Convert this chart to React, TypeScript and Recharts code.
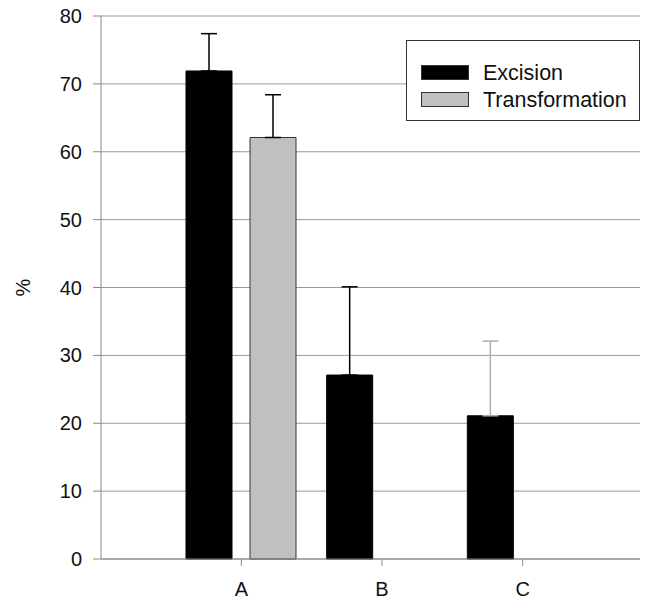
import { BarChart, Bar, XAxis, YAxis, CartesianGrid, ErrorBar } from 'recharts'

const categories = ['A', 'B', 'C']
const excision = [71.9, 27.1, 21.1]
const excisionErr = [5.5, 13.0, 11.0]
const transformation = [62.1, 0, 0]
const transformationErr = [6.3, 0, 0]
const yTicks = [0, 10, 20, 30, 40, 50, 60, 70, 80]

const seriesNames = ['Excision', 'Transformation']
const seriesFills = ['#000000', '#c0c0c0']

const font = '"Liberation Sans", Arial, sans-serif'

// C's whisker is drawn lighter in the original, so it gets its own key
const data = categories.map((cat, i) => ({
  cat,
  excision: excision[i],
  excisionErr: cat !== 'C' ? [0, excisionErr[i]] : undefined,
  excisionErrC: cat === 'C' ? [0, excisionErr[i]] : undefined,
  transformation: transformation[i],
  transformationErr: transformationErr[i] > 0 ? [0, transformationErr[i]] : undefined,
}))

const LegendBox = () => (
  <div
    style={{
      position: 'absolute',
      top: 40,
      left: 406,
      width: 234,
      height: 81,
      boxSizing: 'border-box',
      border: '1px solid #333',
      background: '#fff',
      paddingTop: 18,
      paddingLeft: 14,
      fontFamily: font,
      fontSize: 21.5,
      color: '#111',
    }}
  >
    {seriesNames.map((name, i) => (
      <div key={name} style={{ display: 'flex', alignItems: 'center', height: 27 }}>
        <span
          style={{
            display: 'inline-block',
            width: 48,
            height: 15,
            boxSizing: 'border-box',
            background: seriesFills[i],
            border: '1px solid #333',
            marginRight: 14,
          }}
        />
        <span style={{ lineHeight: '22px' }}>{name}</span>
      </div>
    ))}
  </div>
)

export default function App() {
  return (
    <div style={{ position: 'relative', width: 653, height: 602 }}>
      <style>{'body{margin:0}'}</style>
      <BarChart
        width={653}
        height={602}
        data={data}
        margin={{ top: 16, right: 13, left: 0, bottom: 0 }}
        barSize={46}
        barGap={18}
      >
        <CartesianGrid vertical={false} stroke="#999" />
        <XAxis
          dataKey="cat"
          height={43}
          padding={{ left: 70, right: 47 }}
          stroke="#888"
          tickSize={7}
          tickMargin={16}
          tick={{ fill: '#111', fontSize: 20, fontFamily: font }}
        />
        <YAxis
          width={101}
          domain={[0, 80]}
          ticks={yTicks}
          stroke="#888"
          tickSize={8}
          tickMargin={11}
          tick={{ fill: '#111', fontSize: 20, fontFamily: font }}
          label={{
            value: '%',
            angle: -90,
            position: 'center',
            dx: -28,
            style: { fill: '#111', fontSize: 20, fontFamily: font },
          }}
        />
        <Bar
          dataKey="excision"
          name="Excision"
          fill={seriesFills[0]}
          stroke="#000"
          isAnimationActive={false}
        >
          <ErrorBar dataKey="excisionErr" direction="y" width={8} stroke="#000" strokeWidth={1.5} />
          <ErrorBar dataKey="excisionErrC" direction="y" width={8} stroke="#b0b0b0" strokeWidth={1.5} />
        </Bar>
        <Bar
          dataKey="transformation"
          name="Transformation"
          fill={seriesFills[1]}
          stroke="#333"
          isAnimationActive={false}
        >
          <ErrorBar dataKey="transformationErr" direction="y" width={8} stroke="#000" strokeWidth={1.5} />
        </Bar>
      </BarChart>
      <LegendBox />
    </div>
  )
}
